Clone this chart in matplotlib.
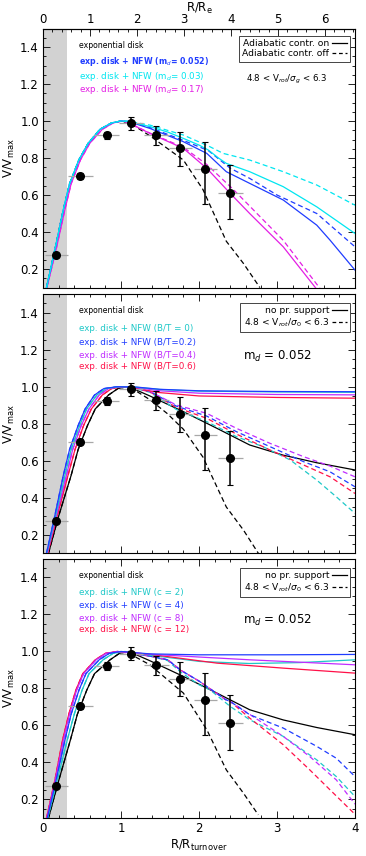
import numpy as np
import matplotlib
matplotlib.use('Agg')
import matplotlib.pyplot as plt
from matplotlib.lines import Line2D
from matplotlib.ticker import MultipleLocator, FixedLocator

# ---------------- observed points (R/R_turnover, V/Vmax) ----------------
obs_r = [0.17, 0.48, 0.82, 1.13, 1.45, 1.76, 2.08, 2.40]
obs_v = [0.275, 0.703, 0.922, 0.987, 0.927, 0.852, 0.740, 0.613]
obs_vlo = [0.0, 0.015, 0.02, 0.035, 0.055, 0.095, 0.19, 0.143]
obs_vhi = [0.0, 0.015, 0.02, 0.035, 0.048, 0.09, 0.145, 0.15]
obs_rerr = [0.15, 0.16, 0.16, 0.15, 0.16, 0.15, 0.15, 0.16]

rise_v = [0.1, 0.3, 0.52, 0.66, 0.79, 0.88, 0.955, 0.99, 1.0]

# ---------------- panel 1 ----------------
p1_rise_cb = [0.045, 0.15, 0.26, 0.34, 0.46, 0.58, 0.73, 0.88, 1.0]
p1_rise_m = [0.05, 0.165, 0.28, 0.36, 0.48, 0.60, 0.76, 0.90, 1.02]

p1_cyan_r = [1.1, 1.37, 1.6, 1.8, 2.0, 2.12, 2.25, 2.35, 2.65, 3.08, 3.51, 4.0]
p1_cyan_v = [0.998, 0.97, 0.94, 0.906, 0.87, 0.843, 0.80, 0.771, 0.726, 0.645, 0.536, 0.392]
p1_cyand_r = [1.1, 1.37, 1.8, 2.14, 2.31, 2.65, 3.08, 3.51, 4.0]
p1_cyand_v = [0.998, 0.978, 0.924, 0.861, 0.825, 0.789, 0.726, 0.654, 0.545]
p1_blue_r = [1.1, 1.37, 1.8, 2.10, 2.35, 2.65, 3.08, 3.51, 3.68, 4.0]
p1_blue_v = [0.997, 0.96, 0.888, 0.825, 0.726, 0.663, 0.573, 0.437, 0.356, 0.194]
p1_blued_r = [1.1, 1.37, 1.8, 2.12, 2.40, 2.65, 3.0, 3.51, 4.0]
p1_blued_v = [0.997, 0.965, 0.895, 0.84, 0.745, 0.69, 0.60, 0.50, 0.32]
p1_mag_r = [1.1, 1.37, 1.8, 2.10, 2.40, 2.65, 3.08, 3.51]
p1_mag_v = [0.99, 0.933, 0.852, 0.744, 0.609, 0.50, 0.32, 0.09]
p1_magd_r = [1.1, 1.37, 1.8, 2.10, 2.44, 2.65, 3.08, 3.56]
p1_magd_v = [0.99, 0.935, 0.858, 0.765, 0.63, 0.54, 0.355, 0.09]
p1_blk_r = [1.0, 1.13, 1.37, 1.6, 1.8, 2.05, 2.35, 2.57, 2.78]
p1_blk_v = [1.0, 0.985, 0.92, 0.85, 0.789, 0.63, 0.35, 0.23, 0.1]

# ---------------- panel 2 (B/T) ----------------
p2_rise_b = [0.045, 0.15, 0.26, 0.34, 0.45, 0.54, 0.66, 0.78, 0.95]
p2_rise_c = [0.05, 0.16, 0.28, 0.36, 0.47, 0.56, 0.69, 0.81, 0.98]
p2_rise_m = [0.055, 0.17, 0.30, 0.38, 0.49, 0.59, 0.72, 0.84, 1.0]
p2_rise_r = [0.06, 0.18, 0.32, 0.41, 0.52, 0.62, 0.76, 0.88, 1.03]
p2_rise_k = [0.07, 0.20, 0.36, 0.45, 0.57, 0.67, 0.84, 0.96, 1.08]

p2_flat_r = [1.2, 1.5, 2.0, 3.0, 4.0]
p2_blue_v = [0.998, 0.986, 0.978, 0.974, 0.973]
p2_cyan_v = [0.997, 0.985, 0.976, 0.972, 0.970]
p2_mag_v = [0.995, 0.978, 0.965, 0.958, 0.956]
p2_red_v = [0.99, 0.968, 0.95, 0.942, 0.938]

p2_dash_r = [1.1, 1.37, 1.71, 2.10, 2.48, 2.91, 3.34, 3.68, 4.0]
p2_magd_v = [1.0, 0.975, 0.901, 0.856, 0.775, 0.694, 0.622, 0.571, 0.513]
p2_blued_v = [1.0, 0.975, 0.895, 0.841, 0.757, 0.676, 0.595, 0.54, 0.459]
p2_redd_v = [1.0, 0.972, 0.888, 0.829, 0.744, 0.658, 0.577, 0.513, 0.423]
p2_cyand_r = [1.1, 1.37, 1.71, 2.10, 2.48, 2.82, 3.17, 3.51, 3.76, 4.0]
p2_cyand_v = [1.0, 0.97, 0.877, 0.811, 0.73, 0.676, 0.604, 0.495, 0.405, 0.315]

nops_r = [1.1, 1.37, 1.8, 2.23, 2.65, 3.08, 3.51, 4.0]
nops_v = [1.0, 0.95, 0.865, 0.775, 0.685, 0.63, 0.589, 0.55]
p2_blkd_r = [1.08, 1.2, 1.37, 1.59, 1.8, 2.05, 2.35, 2.57, 2.76]
p2_blkd_v = [1.0, 0.975, 0.93, 0.856, 0.77, 0.62, 0.35, 0.225, 0.1]

# ---------------- panel 3 (concentration) ----------------
p3_rise_r = [0.045, 0.15, 0.25, 0.33, 0.42, 0.51, 0.67, 0.80, 0.95]
p3_rise_m = [0.05, 0.155, 0.26, 0.34, 0.43, 0.52, 0.68, 0.81, 0.96]
p3_rise_b = [0.055, 0.165, 0.28, 0.36, 0.46, 0.55, 0.72, 0.85, 1.0]
p3_rise_c = [0.06, 0.18, 0.31, 0.40, 0.50, 0.59, 0.77, 0.90, 1.05]
p3_rise_k = [0.07, 0.20, 0.35, 0.44, 0.56, 0.66, 0.86, 0.98, 1.1]

p3_blue_r = [1.37, 2.0, 3.0, 4.0]
p3_blue_v = [0.987, 0.982, 0.982, 0.984]
p3_mag_r = [1.37, 2.0, 2.65, 3.3, 4.0]
p3_mag_v = [0.985, 0.97, 0.955, 0.942, 0.928]
p3_cyan_r = [1.37, 2.01, 2.65, 3.3, 4.0]
p3_cyan_v = [0.98, 0.946, 0.935, 0.94, 0.955]
p3_red_r = [1.37, 2.23, 3.08, 4.0]
p3_red_v = [0.985, 0.937, 0.91, 0.883]

p3_dcom_r = [1.37, 1.6, 1.76, 2.0, 2.34]
p3_dcom_v = [0.975, 0.955, 0.90, 0.84, 0.74]
p3_blued_r = [2.40, 2.65, 3.08, 3.51, 3.76, 4.0]
p3_blued_v = [0.73, 0.658, 0.586, 0.487, 0.423, 0.324]
p3_magd_r = [2.40, 2.65, 2.82, 3.08, 3.42, 3.76, 4.0]
p3_magd_v = [0.73, 0.66, 0.613, 0.541, 0.432, 0.306, 0.175]
p3_redd_r = [2.40, 2.65, 3.08, 3.42, 3.68, 4.0]
p3_redd_v = [0.73, 0.64, 0.496, 0.36, 0.252, 0.12]
p3_cyand_r = [1.37, 1.6, 1.76, 2.0, 2.14, 2.40, 2.65, 3.08, 3.51, 3.76, 4.0]
p3_cyand_v = [0.975, 0.95, 0.89, 0.82, 0.793, 0.703, 0.631, 0.541, 0.414, 0.324, 0.216]
p3_blkd_r = [1.1, 1.37, 1.8, 2.10, 2.35, 2.57, 2.76]
p3_blkd_v = [0.99, 0.928, 0.775, 0.577, 0.36, 0.234, 0.117]

re_ratio = 1.66  # R_turnover / R_e
re_ticks = [0, 1, 2, 3, 4, 5, 6]

C_CYAN1 = '#00e6f0'
C_BLUE = '#1f3cff'
C_MAG1 = '#e41ee4'
C_CYAN2 = '#1ec8c8'
C_MAG2 = '#c02cff'
C_RED = '#ff1048'

LW = 0.9
DASH = (0, (4, 2.5))

fig = plt.figure(figsize=(3.66, 8.56), dpi=100)
bottoms = [0.6641, 0.3537, 0.0444]
axes = [fig.add_axes([0.1175, b, 0.8525, 0.3026]) for b in bottoms]


def curve(ax, r1, v1, r2, v2, color, ls='-', z=3):
    ax.plot(list(r1) + list(r2), list(v1) + list(v2), color=color, lw=LW, ls=ls, zorder=z)


for i, ax in enumerate(axes):
    ax.set_xlim(0, 4)
    ax.set_ylim(0.1, 1.5)
    ax.axvspan(0, 0.31, color='#d2d2d2', lw=0, zorder=0)
    ax.xaxis.set_major_locator(MultipleLocator(1))
    ax.xaxis.set_minor_locator(MultipleLocator(0.2))
    ax.yaxis.set_minor_locator(MultipleLocator(0.05))
    ax.set_yticks([0.2, 0.4, 0.6, 0.8, 1.0, 1.2, 1.4])
    ax.tick_params(which='both', direction='in', right=True, top=(i != 0),
                   labelsize=8.5, width=0.6, pad=3)
    ax.tick_params(which='major', length=5)
    ax.tick_params(which='minor', length=2.5)
    for s in ax.spines.values():
        s.set_linewidth(0.8)
    if i < 2:
        ax.tick_params(labelbottom=False)
    ax.set_ylabel('V/V$_{\\rm max}$', fontsize=8.5, labelpad=2)
    # observations
    ax.errorbar(obs_r, obs_v, xerr=obs_rerr, fmt='none', ecolor='#a8a8a8',
                elinewidth=0.9, capsize=0, zorder=5)
    ax.errorbar(obs_r, obs_v, yerr=[obs_vlo, obs_vhi], fmt='o', color='black',
                ms=5.5, elinewidth=1.1, capsize=2.2, capthick=0.8, zorder=6)

axes[2].set_xlabel('R/R$_{\\rm turnover}$', fontsize=8.5, labelpad=2)

# ---- panel 1
ax = axes[0]
sec = ax.secondary_xaxis('top', functions=(lambda x: x * re_ratio, lambda x: x / re_ratio))
sec.xaxis.set_major_locator(FixedLocator(re_ticks))
sec.xaxis.set_minor_locator(FixedLocator([t / 5 for t in range(0, 34)]))
sec.tick_params(which='both', direction='in', labelsize=8.5, width=0.6, pad=2)
sec.tick_params(which='major', length=5)
sec.tick_params(which='minor', length=2.5)
sec.set_xlabel('R/R$_{\\rm e}$', fontsize=8.5, labelpad=0.8)

curve(ax, p1_rise_cb, rise_v, p1_blk_r, p1_blk_v, 'black', DASH, 2)
curve(ax, p1_rise_m, rise_v, p1_magd_r, p1_magd_v, C_MAG1, DASH)
curve(ax, p1_rise_m, rise_v, p1_mag_r, p1_mag_v, C_MAG1)
curve(ax, p1_rise_cb, rise_v, p1_blued_r, p1_blued_v, C_BLUE, DASH)
curve(ax, p1_rise_cb, rise_v, p1_blue_r, p1_blue_v, C_BLUE)
curve(ax, p1_rise_cb, rise_v, p1_cyand_r, p1_cyand_v, C_CYAN1, DASH)
curve(ax, p1_rise_cb, rise_v, p1_cyan_r, p1_cyan_v, C_CYAN1)

TX = 0.115
FS = 5.6
FSC = 6.3
FSL = 6.6
ax.text(TX, 0.936, 'exponential disk', transform=ax.transAxes, fontsize=FS, va='center')
ax.text(TX, 0.871, 'exp. disk + NFW (m$_d$= 0.052)', transform=ax.transAxes, fontsize=5.7,
        va='center', color=C_BLUE, fontweight='bold')
ax.text(TX, 0.813, 'exp. disk + NFW (m$_d$= 0.03)', transform=ax.transAxes, fontsize=FSC,
        va='center', color=C_CYAN1)
ax.text(TX, 0.766, 'exp. disk + NFW (m$_d$= 0.17)', transform=ax.transAxes, fontsize=FSC,
        va='center', color=C_MAG1)
ax.text(0.782, 0.805, '4.8 < V$_{rot}$/$\\sigma_g$ < 6.3', transform=ax.transAxes,
        fontsize=6.2, va='center', ha='center')


def box_legend(ax, labels, top):
    h = [Line2D([], [], color='black', lw=0.9, ls='-'),
         Line2D([], [], color='black', lw=0.9, ls=(0, (3.0, 2.2)))]
    leg = ax.legend(h, labels, loc='upper right', bbox_to_anchor=(0.985, top),
                    borderaxespad=0, fontsize=FSL, markerfirst=False, handlelength=1.6,
                    handletextpad=0.35, labelspacing=0.12, borderpad=0.35,
                    fancybox=False, framealpha=1, edgecolor='#444444')
    leg.get_frame().set_linewidth(0.7)
    for t in leg.get_texts():
        t.set_ha('right')
    leg._legend_box.align = 'right'


box_legend(ax, ['Adiabatic contr. on', 'Adiabatic contr. off'], 0.971)

# ---- panel 2
ax = axes[1]
curve(ax, p2_rise_k, rise_v, nops_r, nops_v, 'black', '-', 2)
curve(ax, p2_rise_k, rise_v, p2_blkd_r, p2_blkd_v, 'black', DASH, 2)
curve(ax, p2_rise_c, rise_v, p2_cyand_r, p2_cyand_v, C_CYAN2, DASH)
curve(ax, p2_rise_r, rise_v, p2_dash_r, p2_redd_v, C_RED, DASH)
curve(ax, p2_rise_b, rise_v, p2_dash_r, p2_blued_v, C_BLUE, DASH)
curve(ax, p2_rise_m, rise_v, p2_dash_r, p2_magd_v, C_MAG2, DASH)
curve(ax, p2_rise_r, rise_v, p2_flat_r, p2_red_v, C_RED)
curve(ax, p2_rise_m, rise_v, p2_flat_r, p2_mag_v, C_MAG2)
curve(ax, p2_rise_c, rise_v, p2_flat_r, p2_cyan_v, C_CYAN2)
curve(ax, p2_rise_b, rise_v, p2_flat_r, p2_blue_v, C_BLUE)

ax.text(TX, 0.939, 'exponential disk', transform=ax.transAxes, fontsize=FS, va='center')
for y, lab, col in [(0.866, '(B/T = 0)', C_CYAN2), (0.815, '(B/T=0.2)', C_BLUE),
                    (0.765, '(B/T=0.4)', C_MAG2), (0.719, '(B/T=0.6)', C_RED)]:
    ax.text(TX, y, 'exp. disk + NFW ' + lab, transform=ax.transAxes, fontsize=FSC,
            va='center', color=col)
ax.text(0.753, 0.761, 'm$_d$ = 0.052', transform=ax.transAxes, fontsize=8.5,
        va='center', ha='center')
box_legend(ax, ['no pr. support', '4.8 < V$_{rot}$/$\\sigma_0$ < 6.3'], 0.967)

# ---- panel 3
ax = axes[2]
curve(ax, p3_rise_k, rise_v, nops_r, nops_v, 'black', '-', 2)
curve(ax, p3_rise_k, rise_v, p3_blkd_r, p3_blkd_v, 'black', DASH, 2)
curve(ax, p3_rise_c, rise_v, p3_cyand_r, p3_cyand_v, C_CYAN2, DASH)
curve(ax, p3_rise_r, rise_v, p3_dcom_r + p3_redd_r, p3_dcom_v + p3_redd_v, C_RED, DASH)
curve(ax, p3_rise_m, rise_v, p3_dcom_r + p3_magd_r, p3_dcom_v + p3_magd_v, C_MAG2, DASH)
curve(ax, p3_rise_b, rise_v, p3_dcom_r + p3_blued_r, p3_dcom_v + p3_blued_v, C_BLUE, DASH)
curve(ax, p3_rise_c, rise_v, p3_cyan_r, p3_cyan_v, C_CYAN2)
curve(ax, p3_rise_r, rise_v, p3_red_r, p3_red_v, C_RED)
curve(ax, p3_rise_m, rise_v, p3_mag_r, p3_mag_v, C_MAG2)
curve(ax, p3_rise_b, rise_v, p3_blue_r, p3_blue_v, C_BLUE)

ax.text(TX, 0.938, 'exponential disk', transform=ax.transAxes, fontsize=FS, va='center')
for y, lab, col in [(0.869, '(c = 2)', C_CYAN2), (0.822, '(c = 4)', C_BLUE),
                    (0.772, '(c = 8)', C_MAG2), (0.726, '(c = 12)', C_RED)]:
    ax.text(TX, y, 'exp. disk + NFW ' + lab, transform=ax.transAxes, fontsize=FSC,
            va='center', color=col)
ax.text(0.753, 0.761, 'm$_d$ = 0.052', transform=ax.transAxes, fontsize=8.5,
        va='center', ha='center')
box_legend(ax, ['no pr. support', '4.8 < V$_{rot}$/$\\sigma_0$ < 6.3'], 0.965)

fig.savefig('out.png', dpi=100)
